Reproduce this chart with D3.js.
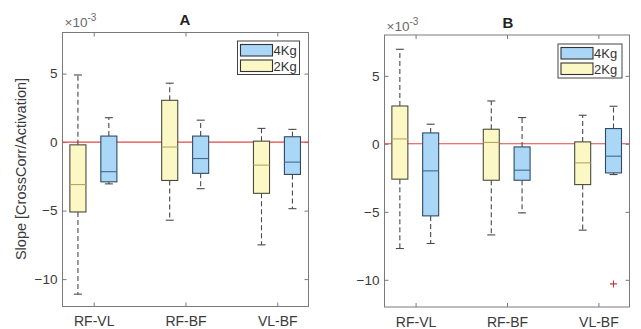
<!DOCTYPE html>
<html>
<head>
<meta charset="utf-8">
<script src="https://cdn.jsdelivr.net/npm/d3@7"></script>
<style>
  html, body { margin: 0; padding: 0; background: #fff; }
  svg { display: block; }
  text { font-family: "Liberation Sans", Arial, sans-serif; }
</style>
</head>
<body>
<svg id="chart" width="641" height="329"></svg>
<script>
// ---------- data (values in units of 1e-3) ----------
const categories = ["RF-VL", "RF-BF", "VL-BF"];
const groups = ["2Kg", "4Kg"];
const yTicks = [-10, -5, 0, 5];
const yDomain = [-12, 8];
const panelTitles = ["A", "B"];

// five-number summaries per category: [lowerWhisker, q1, median, q3, upperWhisker]
const aStats2Kg = [[-11.1, -5.1, -3.1, -0.2, 4.9], [-5.7, -2.8, -0.36, 3.05, 4.3], [-7.5, -3.74, -1.68, 0.07, 1.0]];
const aStats4Kg = [[-3.05, -2.9, -2.16, 0.44, 1.78], [-3.4, -2.28, -1.2, 0.44, 1.6], [-4.86, -2.36, -1.46, 0.39, 0.93]];
const bStats2Kg = [[-7.7, -2.6, 0.36, 2.78, 6.95], [-6.7, -2.68, 0.1, 1.07, 3.15], [-6.35, -3.0, -1.4, 0.14, 2.1]];
const bStats4Kg = [[-7.33, -5.3, -1.99, 0.8, 1.44], [-5.08, -2.68, -1.94, -0.23, 1.93], [-2.26, -2.14, -0.91, 1.12, 2.76]];
const aOutliers4Kg = [[], [], []];
const bOutliers4Kg = [[], [], [-10.3]];

// ---------- styles ----------
const fill = { "2Kg": "#fbf8c6", "4Kg": "#aad7f6" };
const medianColor = { "2Kg": "#b5a860", "4Kg": "#44698f" };
const edgeColor = { "2Kg": "#4a4a3a", "4Kg": "#2f4a66" };
const textColor = "#3a3a3a";
const axisColor = "#7a7a7a";

const svg = d3.select("#chart");

function drawPanel(cfg) {
  const { left, right, top, bottom } = cfg;
  const x = d3.scaleLinear().domain([0.66, 3.34]).range([left, right]);
  const y = d3.scaleLinear().domain(yDomain).range([bottom, top]);
  const g = svg.append("g");

  // axes (MATLAB style, inward ticks, box on)
  const axL = g.append("g").attr("transform", `translate(${left},0)`)
    .call(d3.axisLeft(y).tickValues(yTicks).tickSize(-4).tickPadding(5).tickFormat(d3.format("d")));
  const axR = g.append("g").attr("transform", `translate(${right},0)`)
    .call(d3.axisRight(y).tickValues(yTicks).tickSize(-4).tickFormat(""));
  const axT = g.append("g").attr("transform", `translate(0,${top})`)
    .call(d3.axisTop(x).tickValues([1, 2, 3]).tickSize(-4).tickFormat(""));
  const axB = g.append("g").attr("transform", `translate(0,${bottom})`)
    .call(d3.axisBottom(x).tickValues([1, 2, 3]).tickSize(-4).tickPadding(10)
      .tickFormat(d => categories[d - 1]));
  [axL, axR, axT, axB].forEach(a => {
    a.selectAll("path.domain").attr("stroke", axisColor).attr("stroke-width", 1);
    a.selectAll(".tick line").attr("stroke", axisColor);
    a.selectAll("text").attr("fill", textColor).style("font-size", "13.5px")
      .style("font-family", '"Liberation Sans", Arial, sans-serif');
  });
  axB.selectAll("text").style("font-size", "14px");
  // remove the outer tick ends
  [axL, axR, axT, axB].forEach(a => {
    a.select("path.domain").attr("d", null);
  });
  g.append("rect").attr("x", left).attr("y", top)
    .attr("width", right - left).attr("height", bottom - top)
    .attr("fill", "none").attr("stroke", axisColor).attr("stroke-width", 1);

  // zero reference line
  g.append("line").attr("x1", left).attr("x2", right)
    .attr("y1", y(0)).attr("y2", y(0))
    .attr("stroke", "#e04646").attr("stroke-width", 1.1);

  const boxW = x(1.175) - x(1);
  const capW = boxW / 2;
  const offsets = { "2Kg": -0.172, "4Kg": 0.165 };
  const statsByGroup = { "2Kg": cfg.stats2, "4Kg": cfg.stats4 };

  groups.forEach(gr => {
    statsByGroup[gr].forEach((s, i) => {
      const cx = x(i + 1 + offsets[gr]);
      const [lo, q1, med, q3, hi] = s;
      const bg = g.append("g");
      // whiskers
      [[q3, hi], [q1, lo]].forEach(([a, b]) => {
        bg.append("line").attr("x1", cx).attr("x2", cx)
          .attr("y1", y(a)).attr("y2", y(b))
          .attr("stroke", "#4a4a4a").attr("stroke-width", 1.1)
          .attr("stroke-dasharray", "5,3");
        bg.append("line").attr("x1", cx - capW / 2).attr("x2", cx + capW / 2)
          .attr("y1", y(b)).attr("y2", y(b))
          .attr("stroke", "#4a4a4a").attr("stroke-width", 1.1);
      });
      // box
      bg.append("rect").attr("x", cx - boxW / 2).attr("y", y(q3))
        .attr("width", boxW).attr("height", y(q1) - y(q3))
        .attr("fill", fill[gr]).attr("stroke", edgeColor[gr]).attr("stroke-width", 1.1);
      // median
      bg.append("line").attr("x1", cx - boxW / 2).attr("x2", cx + boxW / 2)
        .attr("y1", y(med)).attr("y2", y(med))
        .attr("stroke", medianColor[gr]).attr("stroke-width", 1.1);
    });
  });

  // outliers
  cfg.out4.forEach((vals, i) => {
    vals.forEach(v => {
      const cx = x(i + 1 + offsets["4Kg"]);
      const cy = y(v);
      g.append("path").attr("d", `M${cx - 3.5},${cy}H${cx + 3.5}M${cx},${cy - 3.5}V${cy + 3.5}`)
        .attr("stroke", "#c23a3a").attr("stroke-width", 1.1).attr("fill", "none");
    });
  });

  // title
  g.append("text").attr("x", cfg.titleX).attr("y", cfg.titleY)
    .attr("text-anchor", "middle").attr("font-weight", "bold")
    .attr("font-size", 15).attr("fill", "#222").text(cfg.title);

  // exponent label
  const ex = g.append("text").attr("x", left + 2).attr("y", cfg.expY)
    .attr("font-size", 13.5).attr("fill", "#6a6a6a");
  ex.append("tspan").text("\u00d710");
  ex.append("tspan").attr("dy", -6).attr("font-size", 10).text("-3");

  // legend
  const L = cfg.legend;
  const lg = g.append("g");
  lg.append("rect").attr("x", L.x).attr("y", L.y).attr("width", L.w).attr("height", L.h)
    .attr("fill", "#fff").attr("stroke", "#444").attr("stroke-width", 1);
  ["4Kg", "2Kg"].forEach((gr, k) => {
    const py = L.y + 3.5 + k * 15.5;
    lg.append("rect").attr("x", L.x + 3).attr("y", py).attr("width", 32).attr("height", 11.5)
      .attr("fill", fill[gr]).attr("stroke", "#333").attr("stroke-width", 1.1);
    lg.append("text").attr("x", L.x + 36).attr("y", py + 10.5)
      .attr("font-size", 13).attr("fill", "#333").text(gr);
  });
}

drawPanel({ left: 62.5, right: 308.5, top: 32.5, bottom: 306.5, title: panelTitles[0],
  titleX: 185, titleY: 25, expY: 26.5,
  stats2: aStats2Kg, stats4: aStats4Kg, out4: aOutliers4Kg,
  legend: { x: 237.5, y: 41, w: 62, h: 33.5 } });
drawPanel({ left: 384.5, right: 629.5, top: 35, bottom: 307, title: panelTitles[1],
  titleX: 508, titleY: 27.5, expY: 31,
  stats2: bStats2Kg, stats4: bStats4Kg, out4: bOutliers4Kg,
  legend: { x: 558, y: 44, w: 64, h: 34 } });

// shared y-axis label
svg.append("text")
  .attr("transform", "translate(26,169) rotate(-90)")
  .attr("text-anchor", "middle").attr("font-size", 14.5).attr("fill", textColor)
  .text("Slope [CrossCorr/Activation]");
</script>
</body>
</html>
